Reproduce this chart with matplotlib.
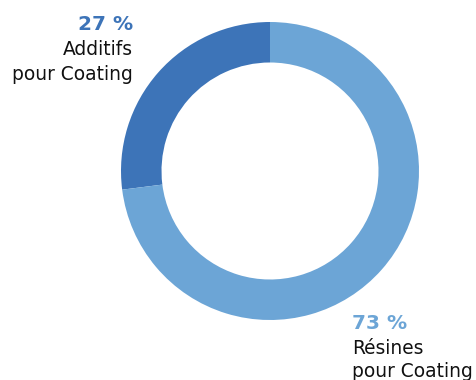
import matplotlib
matplotlib.use("Agg")
import matplotlib.pyplot as plt

labels = ["Additifs\npour Coating", "Résines\npour Coating"]
values = [27, 73]
pct_labels = ["27 %", "73 %"]
colors = ["#3D74B8", "#6CA5D6"]

W, H = 476, 380
fig = plt.figure(figsize=(W/100, H/100), dpi=100)
ax = fig.add_axes([0, 0, 1, 1])

cx, cy, R = 270, H - 171, 149
ax.pie(values, colors=colors, startangle=90, counterclock=True,
       center=(cx, cy), radius=R, frame=True,
       wedgeprops=dict(width=40.5, linewidth=0))
ax.set_xlim(0, W)
ax.set_ylim(0, H)
ax.set_aspect("equal")
ax.axis("off")

fam = "DejaVu Sans"
fs = 13.4
fsb = 14.5
txt = "#111111"
# left label
ax.text(133, H - 30, pct_labels[0], ha="right", va="baseline", fontsize=fsb,
        fontweight="bold", color=colors[0], family=fam)
ax.text(133, H - 55, "Additifs", ha="right", va="baseline", fontsize=fs,
        color=txt, family=fam)
ax.text(133, H - 80, "pour Coating", ha="right", va="baseline", fontsize=fs,
        color=txt, family=fam)
# right label
ax.text(352, H - 329, pct_labels[1], ha="left", va="baseline", fontsize=fsb,
        fontweight="bold", color=colors[1], family=fam)
ax.text(352, H - 354, "Résines", ha="left", va="baseline", fontsize=fs,
        color=txt, family=fam)
ax.text(352, H - 377, "pour Coating", ha="left", va="baseline", fontsize=fs,
        color=txt, family=fam)

fig.savefig("out.png", dpi=100)
